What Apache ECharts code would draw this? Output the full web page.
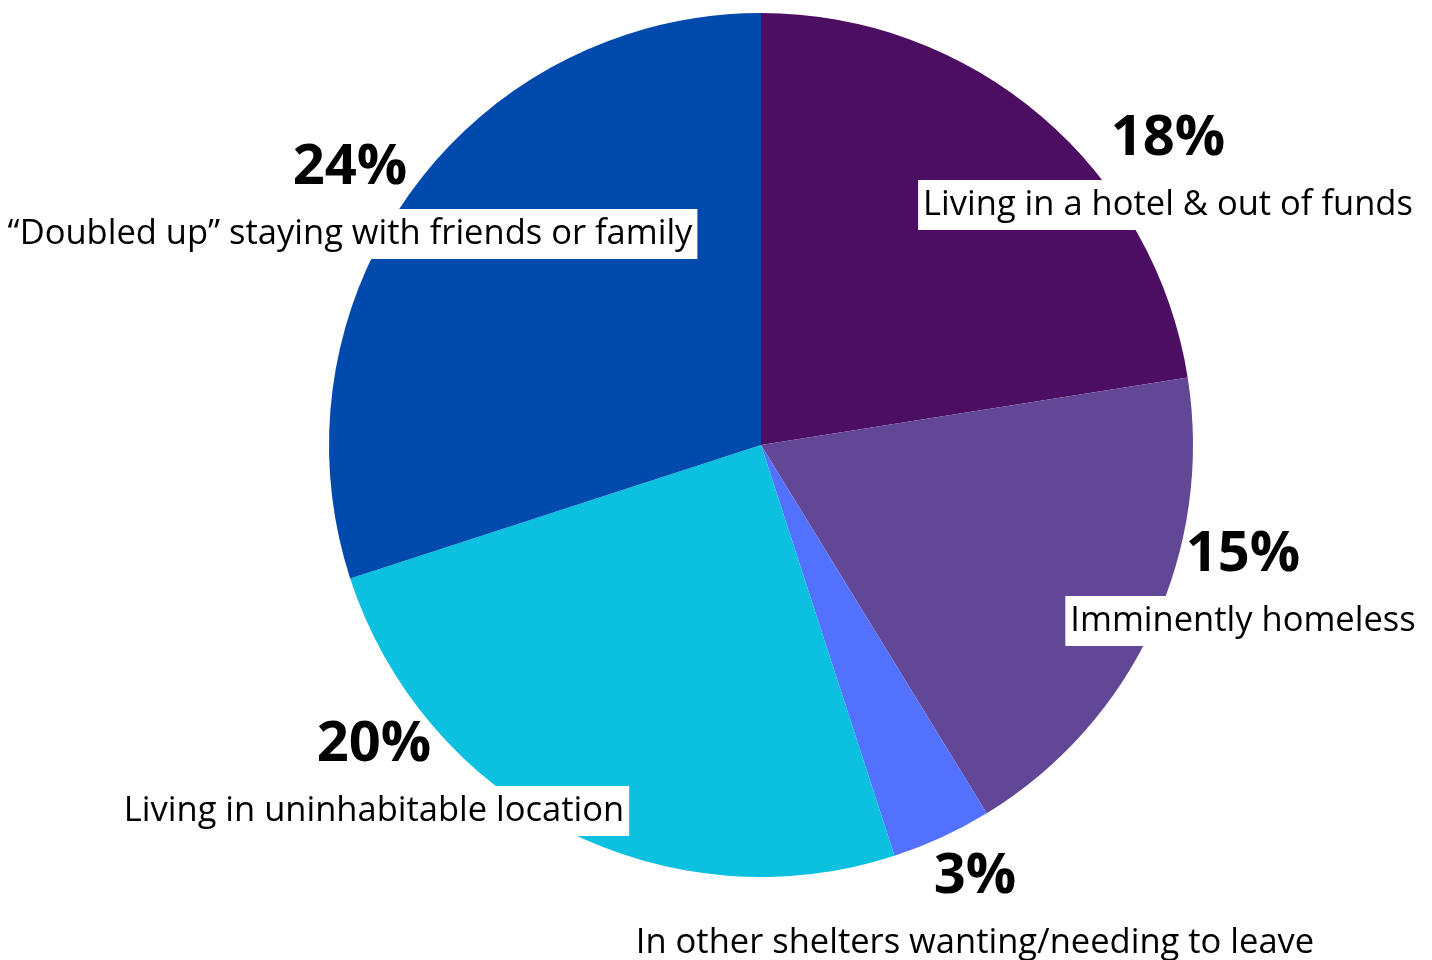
<!DOCTYPE html>
<html>
<head>
<meta charset="utf-8">
<script src="https://cdn.jsdelivr.net/npm/echarts@6/dist/echarts.min.js"></script>
<style>
html,body{margin:0;padding:0;background:#fff;}
#chart{width:1432px;height:960px;}
</style>
</head>
<body>
<div id="chart"></div>
<script>
// Data
const categories = [
  'Living in a hotel & out of funds',
  'Imminently homeless',
  'In other shelters wanting/needing to leave',
  'Living in uninhabitable location',
  '\u201CDoubled up\u201D staying with friends or family'
];
const values = [18, 15, 3, 20, 24];
const percentLabels = ['18%', '15%', '3%', '20%', '24%'];

// Styling / layout (not data)
const colors = ['#4b0e63', '#624796', '#5271ff', '#0cc0df', '#004aad'];
const labelCenters = [[1168, 164], [1243, 580], [975, 902], [374, 770], [350, 193]];

const chart = echarts.init(document.getElementById('chart'), null, {renderer: 'canvas'});
chart.setOption({
  backgroundColor: '#ffffff',
  animation: false,
  series: [{
    type: 'pie',
    center: [761, 445],
    radius: 432,
    startAngle: 90,
    clockwise: true,
    silent: true,
    itemStyle: {borderWidth: 0},
    labelLine: {show: false},
    label: {
      show: true,
      position: 'inside',
      align: 'center',
      formatter: function (p) {
        return '{p|' + percentLabels[p.dataIndex] + '}\n{t|' + p.name + '}';
      },
      rich: {
        p: {fontFamily: 'Open Sans', fontWeight: 'bold', fontSize: 56, color: '#000', lineHeight: 82, align: 'center'},
        t: {fontFamily: 'Open Sans', fontSize: 34.5, color: '#000', backgroundColor: '#fff', padding: [8, 5, 7, 5], align: 'center'}
      }
    },
    labelLayout: function (params) {
      const c = labelCenters[params.dataIndex];
      return {x: c[0], y: c[1], align: 'center', verticalAlign: 'middle'};
    },
    data: categories.map(function (name, i) {
      return {name: name, value: values[i], itemStyle: {color: colors[i]}};
    })
  }]
});
</script>
</body>
</html>
